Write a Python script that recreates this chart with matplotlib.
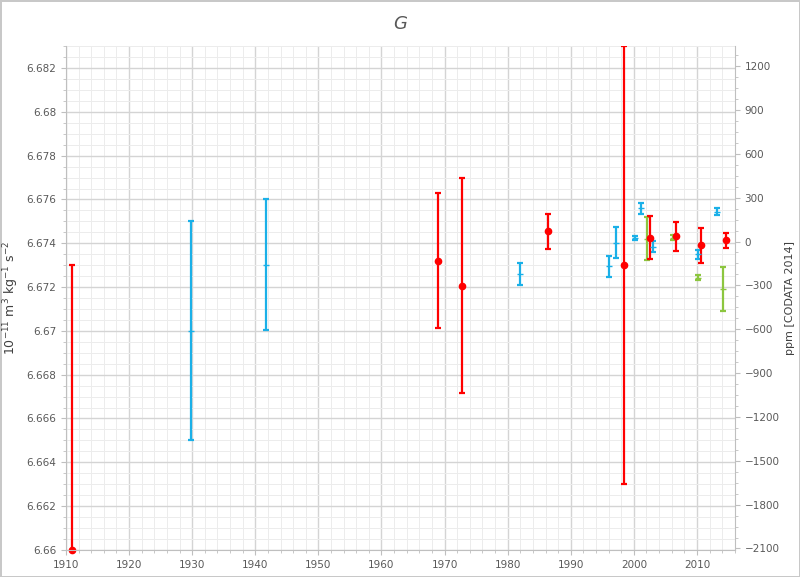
import matplotlib
matplotlib.use("Agg")
import matplotlib.pyplot as plt
from matplotlib.ticker import MultipleLocator

red_year = [1911, 1969, 1972.8, 1986.4, 1998.4, 2002.6, 2006.7, 2010.6, 2014.6]
red_G = [6.6600, 6.67321, 6.67207, 6.67454, 6.67303, 6.67426, 6.67431, 6.67390, 6.67413]
red_err = [0.013, 0.0031, 0.0049, 0.0008, 0.0100, 0.00098, 0.00068, 0.0008, 0.00035]

blue_year = [1929.8, 1941.7, 1982, 1996, 1997.2, 2000.2, 2001.1, 2003, 2010.2, 2013.2]
blue_G = [6.67001, 6.67303, 6.67260, 6.67294, 6.67403, 6.67422, 6.67559, 6.67385, 6.67349, 6.67545]
blue_err = [0.005, 0.003, 0.0005, 0.0005, 0.0007, 0.00009, 0.00027, 0.00027, 0.0002, 0.00018]

green_year = [2002.1, 2006.2, 2010.2, 2014.1]
green_G = [6.67420, 6.67426, 6.67243, 6.67191]
green_err = [0.00098, 0.0001, 0.00012, 0.001]

G_ref = 6.67408
ppm_ticks = list(range(-2100, 1201, 300))

fig = plt.figure(figsize=(8, 5.77), dpi=100)
fig.patch.set_edgecolor('#c8c8c8'); fig.patch.set_linewidth(2)
ax = fig.add_axes([0.0825, 0.047, 0.836, 0.873])
ax.errorbar(blue_year, blue_G, yerr=blue_err, fmt='_', color='#1ab0e8', ms=5, capsize=2.5, elinewidth=1.6, capthick=1.6)
ax.errorbar(green_year, green_G, yerr=green_err, fmt='_', color='#8cc63f', ms=5, capsize=2.5, elinewidth=1.6, capthick=1.6)
ec = ax.errorbar(red_year, red_G, yerr=red_err, fmt='o', color='#ff0000', ms=4.5, capsize=2.5, elinewidth=1.6, capthick=1.6)
ec.lines[0].set_clip_on(False)
ax.set_xlim(1910, 2016)
ax.set_ylim(6.66, 6.683)
ax.xaxis.set_major_locator(MultipleLocator(10)); ax.xaxis.set_minor_locator(MultipleLocator(2))
ax.yaxis.set_major_locator(MultipleLocator(0.002)); ax.yaxis.set_minor_locator(MultipleLocator(0.0005))
ax.set_yticks([6.66 + 0.002*i for i in range(12)])
ax.set_yticklabels([f"{6.66+0.002*i:.3f}".rstrip('0') for i in range(12)])
ax.grid(which='major', color='#d4d4d4', lw=1)
ax.grid(which='minor', color='#ececec', lw=0.7)
ax.set_axisbelow(True)
for s in ['top', 'right']:
    ax.spines[s].set_visible(False)
for s in ['left', 'bottom']:
    ax.spines[s].set_color('#bfbfbf')
ax.tick_params(which='both', colors='#bfbfbf', labelcolor='#595959', labelsize=7.5)
ax.set_ylabel("10$^{-11}$ m$^3$ kg$^{-1}$ s$^{-2}$", color='#404040', fontsize=9)
ax.set_title("G", style='italic', color='#595959', fontsize=13, pad=12)

ax2 = ax.twinx()
lo, hi = ax.get_ylim()
ax2.set_ylim((lo-G_ref)/G_ref*1e6, (hi-G_ref)/G_ref*1e6)
ax2.set_yticks(ppm_ticks)
ax2.yaxis.set_minor_locator(MultipleLocator(75))
for s in ['top', 'left', 'bottom']:
    ax2.spines[s].set_visible(False)
ax2.spines['right'].set_color('#bfbfbf')
ax2.tick_params(which='both', colors='#bfbfbf', labelcolor='#595959', labelsize=7.5)
ax2.set_ylabel("ppm [CODATA 2014]", color='#404040', fontsize=8)
fig.savefig("out.png", dpi=100)
